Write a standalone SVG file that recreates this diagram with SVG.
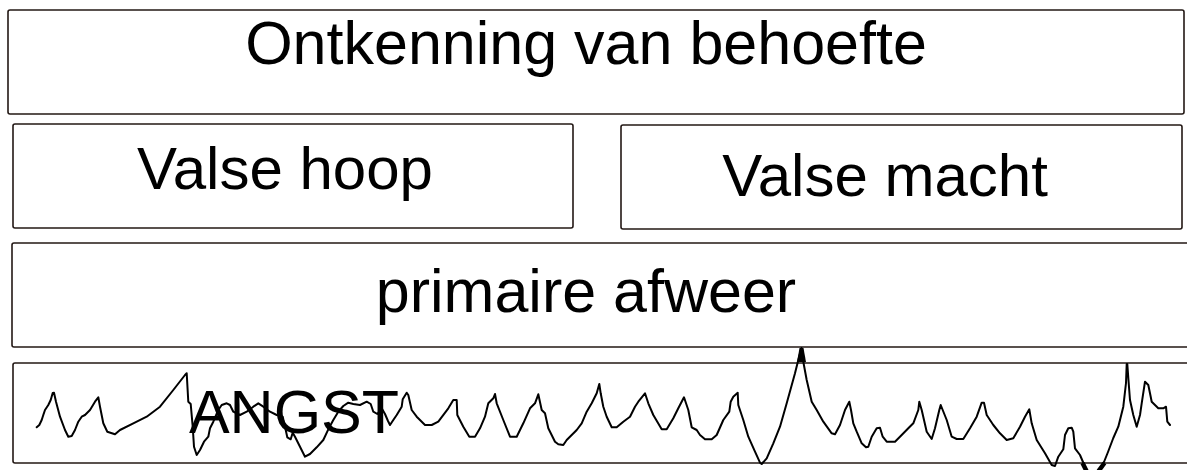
<svg xmlns="http://www.w3.org/2000/svg" width="1187" height="470" viewBox="0 0 1187 470">
<style>
.box{fill:#fff;stroke:#231815;stroke-width:1.6}
.lbl{font-family:"Liberation Sans",Arial,sans-serif;font-size:60px;fill:#000;text-anchor:middle}
.wave{fill:none;stroke:#000;stroke-width:2;stroke-linejoin:round;stroke-linecap:round}
.thick{fill:none;stroke:#000;stroke-width:4.5;stroke-linecap:butt}
</style>
<rect width="1187" height="470" fill="#fff"/>
<g id="node-ontkenning">
<rect class="box" x="8" y="10" width="1176" height="104" rx="2"/>
<text class="lbl" x="586" y="64" style="font-size:61px">Ontkenning van behoefte</text>
</g>
<g id="node-valse-hoop">
<rect class="box" x="13" y="124" width="560" height="104" rx="2"/>
<text class="lbl" x="285" y="189">Valse hoop</text>
</g>
<g id="node-valse-macht">
<rect class="box" x="621" y="125" width="561" height="104" rx="2"/>
<text class="lbl" x="885" y="196">Valse macht</text>
</g>
<g id="node-primaire-afweer">
<rect class="box" x="12" y="243" width="1180" height="104" rx="2"/>
<text class="lbl" x="586" y="312" style="font-size:61px">primaire afweer</text>
</g>
<g id="node-angst">
<rect class="box" x="13" y="363" width="1180" height="100" rx="2"/>
<g id="connectors">
<path class="wave" d="M36.7,427.3 L39.3,425 41.7,420 43.3,415 45,410 48.3,405 50.7,400 52.7,393 54,392.7 56,401.7 60,416.7 65,430 68.3,436.7 71.7,436 75,430 78.3,421.7 81.7,416.7 85,415 90,410 95,401.7 98.3,397.3 100,406.7 103.3,423.3 107.3,431.7 115,434.3 120,430 133.3,423.3 146.7,416.7 160,406.7 173.3,390 185,375 186.7,373.3 188.3,401.7 190.7,404 192.7,426.7 194,446.7 196.7,455 200,450 204,441.7 208.3,436.7 210,428.3 213.3,421.7 218.3,410 221.7,405 226.7,403.3 230,405 233.3,411.7 240,415 246.7,411.7 253.3,406.7 258.3,403.3 263.3,406.7 270,411.7 276.7,415 282.7,416.7 285,426.7 287.3,437.3 290.7,439.3 292.7,432.7 295,436.7 300,446.7 305,456.7 310,454 316.7,447.3 323.3,440 328.3,429.3 333.3,420 338.3,411.7 343.3,406 348.3,402.7 353.3,404 360,405 366.7,401.7 370.7,404 373.3,411.7 377.3,414 381.7,408.3 385,414 388,421 390,425 393.3,420 396.7,415 401.7,406.7 402.7,399.3 406.7,392.7 408.3,395 411.7,410 416.7,416.7 425,425 431.7,425 438.3,421.7 448.3,408.3 453.3,400 456.7,400 457.3,415 463.3,426.7 469.3,436.7 475,436.7 480,428.3 485,416.7 488.3,403.3 493.3,398.3 495,394 496.7,403.3 503.3,420 510,436.7 516.7,436.7 523.3,423.3 530,408.3 535,403.3 538.3,394.3 541.7,410 545,413.3 548.3,428.3 555,441.7 558.3,444.3 563.3,445 566.7,440 576.7,430 581.7,423.3 586.7,411.7 591.7,403.3 596.7,393.3 599.3,384 600.7,393.3 603.3,406.7 606.7,416.7 611.7,427.3 616.7,427.3 623.3,421.7 630,416.7 635,406.7 638.3,401.7 645,393.3 648.3,403.3 653.3,415 661.7,429.3 666.7,429.3 673.3,418.3 678.3,408.3 684,397.3 688.3,410 691.7,427.3 696.7,430 700,435 705,439.3 711.7,439.3 716.7,435 723.3,420 729.3,411.7 730.7,401.7 733.3,396.7 737.7,392.7 738.3,405 743.3,420 748.3,436.7 755,451.7 760,462.7 761.7,464 766.7,458.3 773.3,443.3 780,426.7 786.7,403.3 795,373.3 798.3,360 801.5,348 803.3,361.7 806.7,380 811.7,401.7 816.7,410 823.3,421.7 831.7,433.3 835,434.3 840,425 845,410 849.3,401.7 851,410 853.3,423.3 856.7,431.7 861.7,443.3 866,447.3 868.3,446.7 871.7,436.7 876.7,428.3 880,427.7 882.7,436.7 886.7,441.7 895,441.7 901.7,435 908.3,428.3 913.3,423.3 918.3,410 919.3,401.7 921.7,410 926.7,431.7 931.7,439 935,428.3 939.3,410 940.7,405 942.7,410 946.7,420 951.7,436.7 956.7,439 963.3,439 970,428.3 976.7,416.7 981.7,402.7 984,402.7 986.7,415 993.3,425 1000,433.3 1006.7,440 1013.3,438.3 1020,426.7 1025,416.7 1029.3,409.3 1031.7,423.3 1036.7,440 1045,453.3 1051.7,465 1055,466 1058.3,456.7 1063.3,449.3 1065,435 1068.3,428.3 1071.7,427.7 1073.3,431.7 1075,448.3 1080,455 1083,462 1088,473 1097,473 1104,462 1108,452 1113.3,438 1118.3,426.7 1123.3,406.7 1126,383 1126.7,364 1127.3,364 1128.3,378 1130,400 1133.3,415 1136.7,426.7 1140,415 1141.7,403.3 1145,381.7 1148.3,385 1150,393.3 1151.7,401.7 1155,405 1158.3,408.3 1163.3,408.3 1166,406.7 1167.3,421.7 1170,425"/>
<polygon points="797,362 799.5,348 803.5,348 806,362" fill="#000"/>
<line class="thick" x1="1082.5" y1="463" x2="1086.5" y2="471"/>
<line class="thick" x1="1104.5" y1="463" x2="1098.5" y2="471"/>
</g>
<text class="lbl" x="294" y="433" style="font-size:61px">ANGST</text>
</g>
</svg>
